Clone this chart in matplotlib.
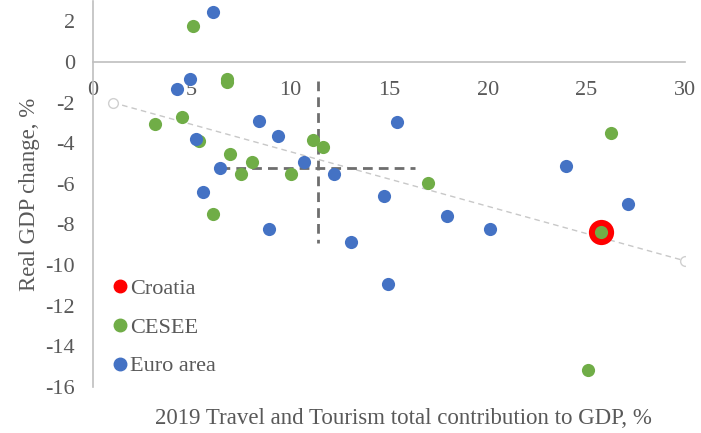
import matplotlib.pyplot as plt
from matplotlib.lines import Line2D

plt.rcParams['font.family'] = ['Liberation Serif', 'DejaVu Serif']
plt.rcParams['axes.unicode_minus'] = False

# Euro area countries
euro_x = [6.08, 4.92, 4.27, 5.22, 8.40, 9.39, 6.44, 5.58, 10.69, 12.23,
          8.94, 13.08, 15.41, 14.73, 17.93, 20.12, 23.96, 27.13, 14.93]
euro_y = [2.46, -0.84, -1.35, -3.79, -2.89, -3.63, -5.20, -6.42, -4.91, -5.52,
          -8.23, -8.85, -2.94, -6.58, -7.56, -8.23, -5.11, -7.00, -10.94]

# CESEE countries
cesee_x = [5.05, 6.79, 6.80, 3.13, 4.50, 5.37, 6.93, 7.48, 8.04, 10.04,
           11.17, 11.64, 6.10, 16.98, 26.25, 25.75, 25.07]
cesee_y = [1.77, -0.86, -1.01, -3.05, -2.73, -3.91, -4.53, -5.53, -4.94, -5.50,
           -3.84, -4.20, -7.49, -5.98, -3.50, -8.39, -15.17]

croatia_x = [25.75]
croatia_y = [-8.39]

# linear trend, drawn between its two end points
trend_x = [1.0, 30.0]
trend_y = [-2.0, -9.79]

# averages (cross-hair)
avg_x = 11.4
avg_y = -5.2
avg_x_span = [6.45, 16.3]
avg_y_span = [-0.95, -8.9]

blue = '#4472C4'
green = '#70AD47'
red = '#FF0000'
txt = '#595959'
fs = 16

fig = plt.figure(figsize=(7.01, 4.33), dpi=100)
ax = fig.add_axes([93 / 701, 1 - 387 / 433, (685 - 93) / 701, 386 / 433])

ax.plot(trend_x, trend_y, color='#C8C8C8', lw=1, linestyle=(0, (4, 3)),
        marker='o', markersize=7, markerfacecolor='white',
        markeredgecolor='#D0D0D0', zorder=1)

ax.plot([avg_x, avg_x], avg_y_span, color='#6E6E6E', lw=2,
        linestyle=(0, (3.5, 2.2)), zorder=2)
ax.plot(avg_x_span, [avg_y, avg_y], color='#6E6E6E', lw=2,
        linestyle=(0, (3.5, 2.2)), zorder=2)

ax.scatter(croatia_x, croatia_y, s=330, color=red, linewidths=0, zorder=3)
ax.scatter(cesee_x, cesee_y, s=90, color=green, linewidths=0, zorder=4)
ax.scatter(euro_x, euro_y, s=90, color=blue, linewidths=0, zorder=5)

ax.set_xlim(0, 30)
ax.set_ylim(-16, 3)
ax.set_xticks(range(0, 31, 5))
ax.set_yticks(range(-16, 3, 2))

for side in ['top', 'right']:
    ax.spines[side].set_visible(False)
ax.spines['bottom'].set_position(('data', 0))
ax.spines['bottom'].set_color('#BFBFBF')
ax.spines['left'].set_color('#BFBFBF')
ax.spines['bottom'].set_linewidth(1.2)
ax.spines['left'].set_linewidth(1.2)

ax.tick_params(axis='x', length=0, pad=14, labelsize=fs, labelcolor=txt)
ax.tick_params(axis='y', length=0, pad=13, labelsize=fs, labelcolor=txt)

ax.set_ylabel('Real GDP change, %', fontsize=fs + 0.5, color=txt, labelpad=4)
fig.text(403 / 701, 1 - 418 / 433, '2019 Travel and Tourism total contribution to GDP, %',
         fontsize=fs + 0.5, color=txt, ha='center', va='center')

handles = [
    Line2D([], [], linestyle='none', marker='o', markersize=9, color=red, label='Croatia'),
    Line2D([], [], linestyle='none', marker='o', markersize=9, color=green, label='CESEE'),
    Line2D([], [], linestyle='none', marker='o', markersize=9, color=blue, label='Euro area'),
]
ax.legend(handles=handles, loc='upper left', bbox_to_anchor=(0.005, 0.322),
          frameon=False, fontsize=fs, labelcolor=txt, handlelength=0.8,
          handletextpad=0.05, labelspacing=0.82, borderaxespad=0.3)

fig.savefig('out.png', dpi=100)
